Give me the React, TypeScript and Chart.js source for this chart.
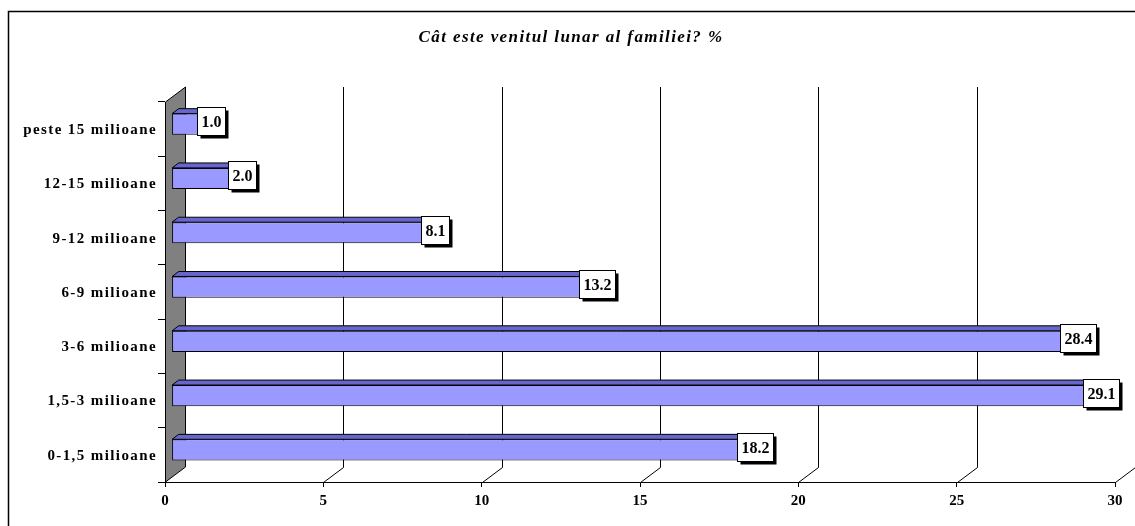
import React, { useEffect, useRef } from "react";
import { Chart, registerables } from "chart.js";
Chart.register(...registerables);

const chartTitle = "Cât este venitul lunar al familiei? %";
const categories = [
  "peste 15 milioane",
  "12-15 milioane",
  "9-12 milioane",
  "6-9 milioane",
  "3-6 milioane",
  "1,5-3 milioane",
  "0-1,5 milioane",
];
const values = [1.0, 2.0, 8.1, 13.2, 28.4, 29.1, 18.2];
const axisMin = 0;
const axisMax = 30;
const axisStep = 5;

const W = 1135;
const H = 526;
const DX = 20; // wall depth (x)
const DY = 15; // wall depth (y)
const BAR_FRONT = 0.33;
const BAR_BACK = 0.66;
const SERIF = '"Liberation Serif", "Times New Roman", serif';

const threeD = {
  id: "threeD",
  beforeDraw(chart: any) {
    const { ctx } = chart;
    ctx.save();
    ctx.fillStyle = "#fff";
    ctx.fillRect(0, 0, chart.width, chart.height);
    ctx.strokeStyle = "#000";
    ctx.lineWidth = 1.5;
    ctx.beginPath();
    ctx.moveTo(8.5, chart.height + 5);
    ctx.lineTo(8.5, 11.5);
    ctx.lineTo(chart.width + 5, 11.5);
    ctx.stroke();
    ctx.font = `italic bold 17px ${SERIF}`;
    (ctx as any).letterSpacing = "1.4px";
    ctx.fillStyle = "#000";
    ctx.textAlign = "center";
    ctx.textBaseline = "middle";
    ctx.fillText(chartTitle, 571, 38);
    ctx.restore();
  },
  beforeDatasetsDraw(chart: any) {
    const { ctx, chartArea: a, scales } = chart;
    const x = scales.x;
    ctx.save();
    ctx.lineWidth = 1;
    ctx.strokeStyle = "#000";
    // left side wall
    ctx.beginPath();
    ctx.moveTo(a.left + 0.5, a.top);
    ctx.lineTo(a.left + 0.5 + DX, a.top - DY);
    ctx.lineTo(a.left + 0.5 + DX, a.bottom - DY);
    ctx.lineTo(a.left + 0.5, a.bottom);
    ctx.closePath();
    ctx.fillStyle = "#808080";
    ctx.fill();
    ctx.stroke();
    // floor + back wall gridlines
    for (let v = axisMin + axisStep; v <= axisMax; v += axisStep) {
      const px = Math.round(x.getPixelForValue(v)) + 0.5;
      ctx.beginPath();
      ctx.moveTo(px, a.bottom + 0.5);
      ctx.lineTo(px + DX, a.bottom - DY + 0.5);
      ctx.lineTo(px + DX, a.top - DY);
      ctx.stroke();
    }
    ctx.restore();
    ctx.save();
    ctx.translate(DX * BAR_FRONT, -DY * BAR_FRONT);
  },
  afterDatasetsDraw(chart: any) {
    const { ctx, scales } = chart;
    ctx.restore();
    const fx = DX * BAR_FRONT;
    const fy = DY * BAR_FRONT;
    const bx = DX * (BAR_BACK - BAR_FRONT);
    const by = DY * (BAR_BACK - BAR_FRONT);
    const meta = chart.getDatasetMeta(0);
    ctx.save();
    ctx.lineWidth = 1;
    ctx.strokeStyle = "#000";
    meta.data.forEach((el: any) => {
      const p = el.getProps(["x", "y", "base", "height"], true);
      const left = Math.min(p.base, p.x) + fx;
      const right = Math.max(p.base, p.x) + fx;
      const top = p.y - p.height / 2 - fy;
      const bottom = p.y + p.height / 2 - fy;
      // top face
      ctx.beginPath();
      ctx.moveTo(left, top);
      ctx.lineTo(right, top);
      ctx.lineTo(right + bx, top - by);
      ctx.lineTo(left + bx, top - by);
      ctx.closePath();
      ctx.fillStyle = "#6666CC";
      ctx.fill();
      ctx.stroke();
      // end face
      ctx.beginPath();
      ctx.moveTo(right, top);
      ctx.lineTo(right + bx, top - by);
      ctx.lineTo(right + bx, bottom - by);
      ctx.lineTo(right, bottom);
      ctx.closePath();
      ctx.fillStyle = "#4D4D99";
      ctx.fill();
      ctx.stroke();
    });
    // value labels
    ctx.font = `bold 16px ${SERIF}`;
    ctx.textAlign = "center";
    ctx.textBaseline = "middle";
    values.forEach((v, i) => {
      const txt = v.toFixed(1);
      const cx = scales.x.getPixelForValue(v) + 14;
      const cy = scales.y.getPixelForValue(i) - 8;
      const w = Math.round(ctx.measureText(txt).width + 8);
      const h = 28;
      const l = Math.round(cx - w / 2) + 0.5;
      const t = Math.round(cy - h / 2) + 0.5;
      ctx.fillStyle = "#000";
      ctx.fillRect(l + 3, t + 3, w, h);
      ctx.fillStyle = "#fff";
      ctx.fillRect(l, t, w, h);
      ctx.strokeRect(l, t, w, h);
      ctx.fillStyle = "#000";
      ctx.fillText(txt, l + w / 2, t + h / 2 + 1);
    });
    // category labels
    ctx.font = `bold 15px ${SERIF}`;
    (ctx as any).letterSpacing = "1.4px";
    ctx.textAlign = "right";
    categories.forEach((c, i) => {
      const cy = scales.y.getPixelForValue(i);
      ctx.fillText(c, 157, cy + 1);
    });
    ctx.restore();
  },
};

export default function App() {
  const ref = useRef<HTMLCanvasElement>(null);
  useEffect(() => {
    document.body.style.margin = "0";
    const chart = new Chart(ref.current as HTMLCanvasElement, {
      type: "bar",
      data: {
        labels: categories,
        datasets: [
          {
            data: values,
            backgroundColor: "#9999FF",
            borderColor: "#000",
            borderWidth: 1,
            borderSkipped: false,
            barPercentage: 0.39,
            categoryPercentage: 1,
          },
        ],
      },
      options: {
        indexAxis: "y",
        animation: false,
        responsive: false,
        devicePixelRatio: 1,
        layout: { padding: { top: 102, right: 20, bottom: 0, left: 0 } },
        plugins: {
          legend: { display: false },
          tooltip: { enabled: false },
          title: { display: false },
        },
        scales: {
          x: {
            type: "linear",
            min: axisMin,
            max: axisMax,
            ticks: {
              stepSize: axisStep,
              color: "#000",
              padding: 5,
              font: { family: SERIF, size: 15, weight: "bold" },
            },
            grid: { drawOnChartArea: false, drawTicks: true, tickLength: 5, color: "#000" },
            border: { display: true, color: "#000", width: 1 },
            afterFit: (s: any) => {
              s.height = 44;
            },
          },
          y: {
            type: "category",
            ticks: { display: false },
            grid: { drawOnChartArea: false, drawTicks: true, tickLength: 7, color: "#000", offset: true },
            border: { display: true, color: "#000", width: 1 },
            afterFit: (s: any) => {
              s.width = 165;
            },
          },
        },
      },
      plugins: [threeD],
    } as any);
    return () => chart.destroy();
  }, []);
  return (
    <div style={{ width: W, height: H, position: "relative" }}>
      <canvas ref={ref} width={W} height={H} style={{ display: "block", width: W, height: H }} />
    </div>
  );
}
